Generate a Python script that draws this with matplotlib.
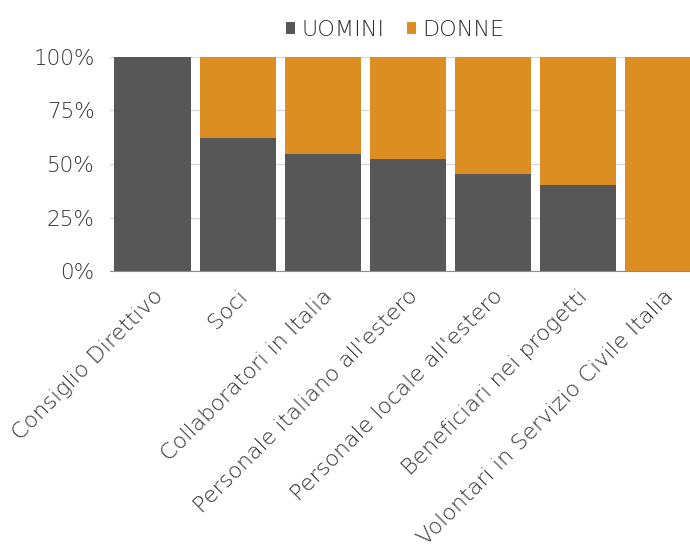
import matplotlib
matplotlib.use('Agg')
import matplotlib.pyplot as plt
import matplotlib.transforms as mtransforms
import numpy as np

# Composizione per genere (quota percentuale)
categorie = ["Consiglio Direttivo", "Soci", "Collaboratori in Italia",
             "Personale italiano all'estero", "Personale locale all'estero",
             "Beneficiari nei progetti", "Volontari in Servizio Civile Italia"]
uomini = [100, 62.1, 54.7, 52.3, 45.3, 40.2, 0]
donne = [0, 37.9, 45.3, 47.7, 54.7, 59.8, 100]

GRIGIO = "#575757"
ARANCIO = "#DC8E23"
TESTO = "#2E2E2E"

plt.rcParams['font.family'] = ['DejaVu Sans']
plt.rcParams['font.weight'] = 'light'

fig = plt.figure(figsize=(6.9, 5.59), dpi=100)
# area del grafico: l'ultima colonna esce dal bordo destro
ax = fig.add_axes([110 / 690, 288 / 559, 595.5 / 690, 214 / 559])

x = np.arange(len(categorie))
ax.bar(x, uomini, width=0.895, color=GRIGIO, label="UOMINI", zorder=3)
ax.bar(x, donne, width=0.895, bottom=uomini, color=ARANCIO, label="DONNE", zorder=3)

ax.set_xlim(-0.5, len(categorie) - 0.5)
ax.set_ylim(0, 100)
ax.set_yticks([0, 25, 50, 75, 100])
ax.set_yticklabels(["0%", "25%", "50%", "75%", "100%"])
ax.yaxis.grid(True, color="#D9D9D9", linewidth=1, zorder=0)

ax.set_xticks(x)
ax.set_xticklabels(categorie, rotation=45, ha='right', rotation_mode='anchor')
# sposta le etichette inclinate un poco a destra
offset = mtransforms.ScaledTranslation(7 / 100, 0, fig.dpi_scale_trans)
for lab in ax.get_xticklabels():
    lab.set_transform(lab.get_transform() + offset)

for s in ['top', 'right', 'left']:
    ax.spines[s].set_visible(False)
ax.spines['bottom'].set_color("#8C8C8C")
ax.spines['bottom'].set_zorder(4)
ax.tick_params(axis='both', length=0, colors=TESTO)
ax.tick_params(axis='x', labelsize=16, pad=11)
ax.tick_params(axis='y', labelsize=15.5, pad=11)

fig.legend(loc='upper center', bbox_to_anchor=(0.573, 1.0), ncol=2, frameon=False,
           fontsize=16, labelcolor=TESTO, handlelength=0.4, handleheight=0.4,
           handletextpad=0.3, columnspacing=1.0)

fig.savefig("out.png", dpi=100)
